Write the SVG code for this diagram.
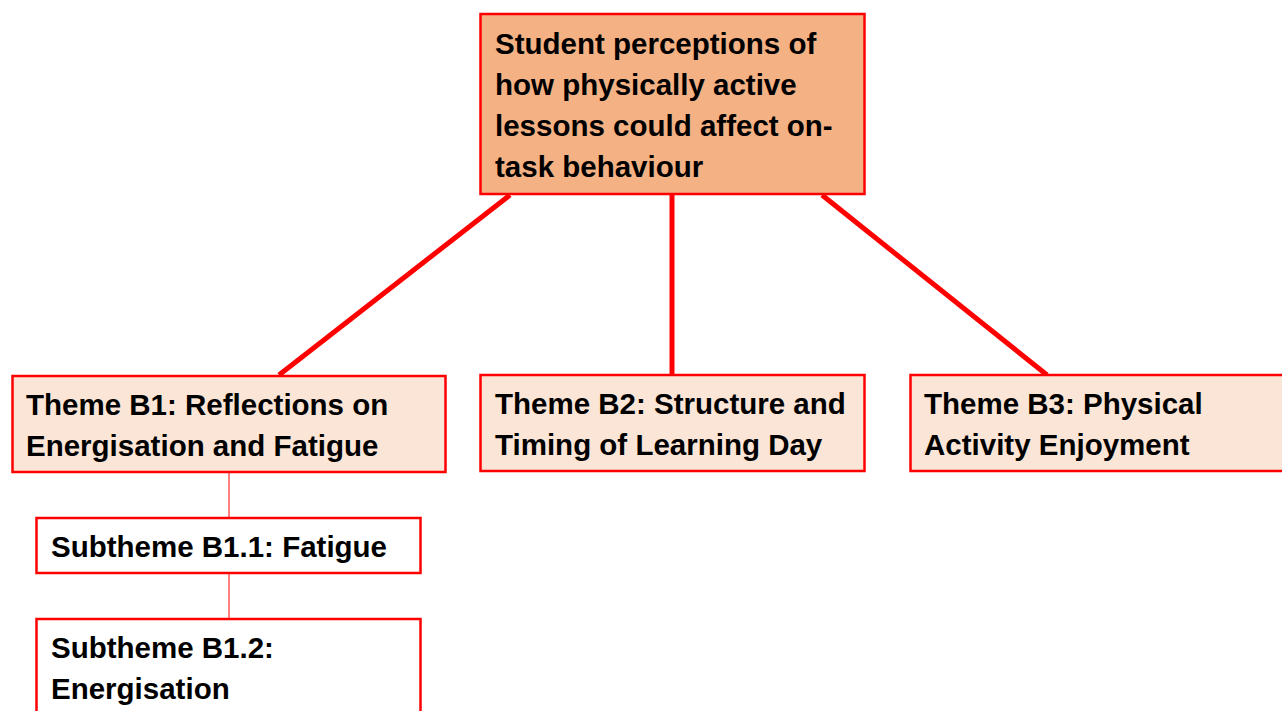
<svg xmlns="http://www.w3.org/2000/svg" width="1282" height="711" viewBox="0 0 1282 711">
<style>
.box{stroke:#FF0000;stroke-width:2.5}
.main{fill:#F4B183}
.theme{fill:#FBE5D6}
.sub{fill:#FFFFFF}
.t{font-family:"Liberation Sans",Arial,sans-serif;font-weight:bold;font-size:29.5px;fill:#000}
.thick{stroke:#FF0000;stroke-width:5;fill:none}
.thin{stroke:#FF0000;stroke-width:1;fill:none}
</style>
<rect width="1282" height="711" fill="#FFFFFF"/>
<g id="connectors">
<line class="thick" x1="510" y1="195" x2="279" y2="375"/>
<line class="thick" x1="672" y1="195" x2="672" y2="375"/>
<line class="thick" x1="822" y1="195" x2="1047" y2="375"/>
<line class="thin" x1="229" y1="473" x2="229" y2="518"/>
<line class="thin" x1="229" y1="573" x2="229" y2="619"/>
</g>
<g id="root">
<rect class="box main" x="480.5" y="14" width="384" height="180"/>
<text class="t"><tspan x="495" y="54">Student perceptions of</tspan><tspan x="495" y="95">how physically active</tspan><tspan x="495" y="136">lessons could affect on-</tspan><tspan x="495" y="177">task behaviour</tspan></text>
</g>
<g id="themeB1">
<rect class="box theme" x="12.5" y="376" width="433" height="96"/>
<text class="t"><tspan x="26" y="415">Theme B1: Reflections on</tspan><tspan x="26" y="456">Energisation and Fatigue</tspan></text>
</g>
<g id="themeB2">
<rect class="box theme" x="480.5" y="375" width="384" height="96"/>
<text class="t"><tspan x="495" y="414">Theme B2: Structure and</tspan><tspan x="495" y="455">Timing of Learning Day</tspan></text>
</g>
<g id="themeB3">
<rect class="box theme" x="910.5" y="375" width="384" height="96"/>
<text class="t"><tspan x="924" y="414">Theme B3: Physical</tspan><tspan x="924" y="455">Activity Enjoyment</tspan></text>
</g>
<g id="subB1_1">
<rect class="box sub" x="36.5" y="518" width="384" height="55"/>
<text class="t"><tspan x="51" y="557">Subtheme B1.1: Fatigue</tspan></text>
</g>
<g id="subB1_2">
<rect class="box sub" x="36.5" y="619" width="384" height="110"/>
<text class="t"><tspan x="51" y="658">Subtheme B1.2:</tspan><tspan x="51" y="699">Energisation</tspan></text>
</g>
</svg>
